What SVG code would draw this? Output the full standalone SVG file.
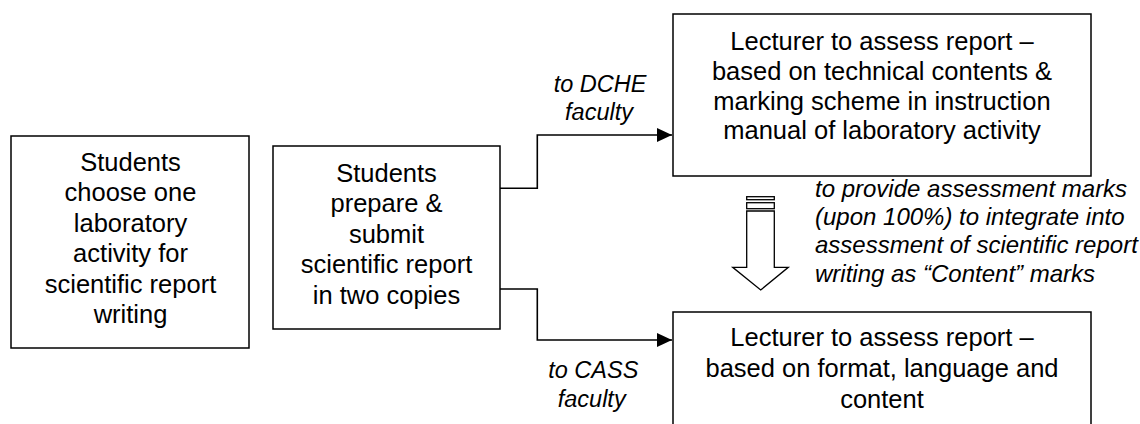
<svg xmlns="http://www.w3.org/2000/svg" width="1140" height="424" viewBox="0 0 1140 424">
<style>
.box{fill:#fff;stroke:#000;stroke-width:1.5}
.t{font-family:"Liberation Sans",Arial,sans-serif;font-size:25.5px;fill:#000;text-anchor:middle}
.lab{font-family:"Liberation Sans",Arial,sans-serif;font-size:23.5px;font-style:italic;fill:#000;text-anchor:middle}
.note{font-family:"Liberation Sans",Arial,sans-serif;font-size:24px;font-style:italic;fill:#000}
.conn{fill:none;stroke:#000;stroke-width:1.6}
.blk{fill:#fff;stroke:#000;stroke-width:1.3}
</style>
<defs>
<marker id="ah" markerUnits="userSpaceOnUse" markerWidth="16" markerHeight="16" refX="15" refY="7" orient="auto">
<path d="M0,0 L15,7 L0,14 Z" fill="#000"/>
</marker>
</defs>
<rect width="1140" height="424" fill="#fff"/>
<g id="node-choose">
<rect class="box" x="11" y="136" width="238" height="212"/>
<text class="t" x="130.5" y="170.7">Students</text>
<text class="t" x="130.5" y="201.2">choose one</text>
<text class="t" x="130.5" y="231.7">laboratory</text>
<text class="t" x="130.5" y="262.2">activity for</text>
<text class="t" x="130.5" y="292.7">scientific report</text>
<text class="t" x="130.5" y="323.2">writing</text>
</g>
<g id="node-submit">
<rect class="box" x="273" y="146" width="227" height="183"/>
<text class="t" x="386.5" y="181.5">Students</text>
<text class="t" x="386.5" y="212">prepare &amp;</text>
<text class="t" x="386.5" y="242.5">submit</text>
<text class="t" x="386.5" y="273">scientific report</text>
<text class="t" x="386.5" y="303.5">in two copies</text>
</g>
<g id="node-dche">
<rect class="box" x="673" y="14" width="418" height="162"/>
<text class="t" x="882" y="50">Lecturer to assess report –</text>
<text class="t" x="882" y="80">based on technical contents &amp;</text>
<text class="t" x="882" y="109.5">marking scheme in instruction</text>
<text class="t" x="882" y="139">manual of laboratory activity</text>
</g>
<g id="node-cass">
<rect class="box" x="673" y="312" width="418" height="130"/>
<text class="t" x="882" y="346">Lecturer to assess report –</text>
<text class="t" x="882" y="376.7">based on format, language and</text>
<text class="t" x="882" y="407.5">content</text>
</g>
<g id="connectors">
<path class="conn" d="M500,188.3 H537.3 V135 H672" marker-end="url(#ah)"/>
<path class="conn" d="M500,289 H537.3 V340 H672" marker-end="url(#ah)"/>
<g id="block-arrow">
<rect class="blk" x="746.7" y="196.7" width="27.6" height="3"/>
<rect class="blk" x="746.7" y="202.7" width="27.6" height="6"/>
<path class="blk" d="M746.7,211 H774.3 V267.3 H788.3 L760.7,290 L732.7,267.3 H746.7 Z"/>
</g>
</g>
<g id="labels">
<text class="lab" x="600" y="91.5">to DCHE</text>
<text class="lab" x="599" y="120">faculty</text>
<text class="lab" x="593.3" y="378.3">to CASS</text>
<text class="lab" x="591.7" y="406.7">faculty</text>
<text class="note" x="815" y="196.7">to provide assessment marks</text>
<text class="note" x="815" y="225">(upon 100%) to integrate into</text>
<text class="note" x="815" y="253.3">assessment of scientific report</text>
<text class="note" x="815" y="281.6">writing as “Content” marks</text>
</g>
</svg>
